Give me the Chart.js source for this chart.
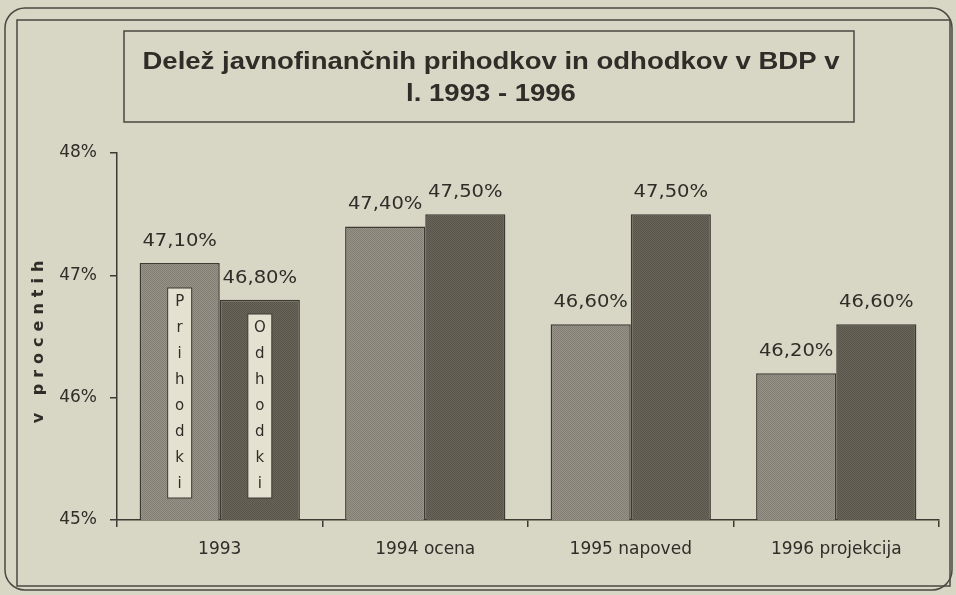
<!DOCTYPE html>
<html>
<head>
<meta charset="utf-8">
<title>Delež javnofinančnih prihodkov in odhodkov v BDP</title>
<script src="https://cdn.jsdelivr.net/npm/chart.js"></script>
<style>
  html, body { margin: 0; padding: 0; background: #d8d6c5; }
  #wrap { width: 956px; height: 595px; }
</style>
</head>
<body>
<div id="wrap"><canvas id="chart" width="956" height="595"></canvas></div>
<script>
const categories = ['1993', '1994 ocena', '1995 napoved', '1996 projekcija'];
const prihodki = [47.1, 47.4, 46.6, 46.2];
const odhodki = [46.8, 47.5, 47.5, 46.6];
const seriesNames = ['Prihodki', 'Odhodki'];
const titleLines = ['Delež javnofinančnih prihodkov in odhodkov v BDP v', 'l. 1993 - 1996'];
const yTitle = 'v procentih';

const ink = '#2e2d27';

function fmt(v) {
  return v.toFixed(2).replace('.', ',') + '%';
}

// small stipple tile, the printed bars are dotted
function stipple(a, b) {
  const c = document.createElement('canvas');
  c.width = 2; c.height = 2;
  const g = c.getContext('2d');
  g.fillStyle = a; g.fillRect(0, 0, 2, 2);
  g.fillStyle = b; g.fillRect(0, 0, 1, 1); g.fillRect(1, 1, 1, 1);
  return g.createPattern(c, 'repeat');
}

// text stretched horizontally, the scan looks wider than normal fonts
function wideText(ctx, txt, x, y, sx) {
  ctx.save();
  ctx.translate(x, y);
  ctx.scale(sx, 1);
  ctx.fillText(txt, 0, 0);
  ctx.restore();
}

const decor = {
  id: 'decor',
  beforeDraw(chart) {
    const ctx = chart.ctx;
    ctx.save();
    ctx.fillStyle = '#d8d6c5';
    ctx.fillRect(0, 0, chart.width, chart.height);
    ctx.strokeStyle = '#4a4840';
    ctx.lineWidth = 1.5;
    ctx.beginPath();
    ctx.roundRect(5, 8, 947, 582, 20);
    ctx.stroke();
    ctx.strokeRect(17, 20, 933, 566);

    // title box
    ctx.strokeRect(124, 31, 730, 91);
    ctx.fillStyle = ink;
    ctx.font = 'bold 23px "Liberation Sans"';
    ctx.textAlign = 'center';
    ctx.textBaseline = 'middle';
    const w = ctx.measureText(titleLines[0]).width;
    const sx = 697 / w;
    wideText(ctx, titleLines[0], 491, 63, sx);
    wideText(ctx, titleLines[1], 491, 95, sx);

    // y axis title
    ctx.save();
    ctx.translate(39, 342);
    ctx.rotate(-Math.PI / 2);
    ctx.font = 'bold 16px "DejaVu Sans"';
    ctx.letterSpacing = '6px';
    ctx.fillText(yTitle, 3, 0);
    ctx.restore();
    ctx.restore();
  },
  afterDatasetsDraw(chart) {
    const ctx = chart.ctx;
    const y = chart.scales.y;
    ctx.save();
    ctx.fillStyle = ink;
    ctx.font = '17px "DejaVu Sans"';
    ctx.textAlign = 'center';
    ctx.textBaseline = 'alphabetic';
    chart.data.datasets.forEach((ds, di) => {
      chart.getDatasetMeta(di).data.forEach((bar, i) => {
        wideText(ctx, fmt(ds.data[i]), bar.x, bar.y - 17, 1.15);
      });
    });

    // vertical series names inside the first pair of bars
    const base = y.getPixelForValue(45);
    seriesNames.forEach((name, di) => {
      const bar = chart.getDatasetMeta(di).data[0];
      const bottom = base - 22;
      const top = bottom - name.length * 26 - 2;
      ctx.fillStyle = '#e4e1d1';
      ctx.fillRect(bar.x - 12, top, 24, bottom - top);
      ctx.strokeStyle = '#3c3a33';
      ctx.lineWidth = 1;
      ctx.strokeRect(bar.x - 12, top, 24, bottom - top);
      ctx.fillStyle = ink;
      ctx.font = '15px "DejaVu Sans"';
      ctx.textBaseline = 'middle';
      for (let k = 0; k < name.length; k++) {
        ctx.fillText(name[k], bar.x, top + 14 + k * 26);
      }
    });
    ctx.restore();
  }
};

new Chart(document.getElementById('chart'), {
  type: 'bar',
  data: {
    labels: categories,
    datasets: [
      {
        label: seriesNames[0],
        data: prihodki,
        backgroundColor: stipple('#96928a', '#827e72'),
        borderColor: '#3c3a33',
        borderWidth: 1.5,
        borderSkipped: 'bottom'
      },
      {
        label: seriesNames[1],
        data: odhodki,
        backgroundColor: stipple('#6a665b', '#58544a'),
        borderColor: '#3c3a33',
        borderWidth: 1.5,
        borderSkipped: 'bottom'
      }
    ]
  },
  options: {
    responsive: false,
    animation: false,
    layout: { padding: { top: 153, right: 17, left: 0, bottom: 0 } },
    plugins: {
      legend: { display: false },
      tooltip: { enabled: false }
    },
    datasets: {
      bar: { categoryPercentage: 0.78, barPercentage: 1 }
    },
    scales: {
      x: {
        afterFit(s) { s.height = 75; },
        border: { color: '#3c3a33', width: 1.5 },
        grid: { drawOnChartArea: false, tickLength: 7, color: '#3c3a33', lineWidth: 1.5 },
        ticks: { color: ink, padding: 12, font: { family: 'DejaVu Sans', size: 17 } }
      },
      y: {
        min: 45,
        max: 48,
        afterFit(s) { s.width = 117; },
        border: { color: '#3c3a33', width: 1.5 },
        grid: { drawOnChartArea: false, tickLength: 7, color: '#3c3a33', lineWidth: 1.5 },
        ticks: {
          stepSize: 1,
          color: ink,
          padding: 13,
          font: { family: 'DejaVu Sans', size: 17 },
          callback: v => v + '%'
        }
      }
    }
  },
  plugins: [decor]
});
</script>
</body>
</html>
